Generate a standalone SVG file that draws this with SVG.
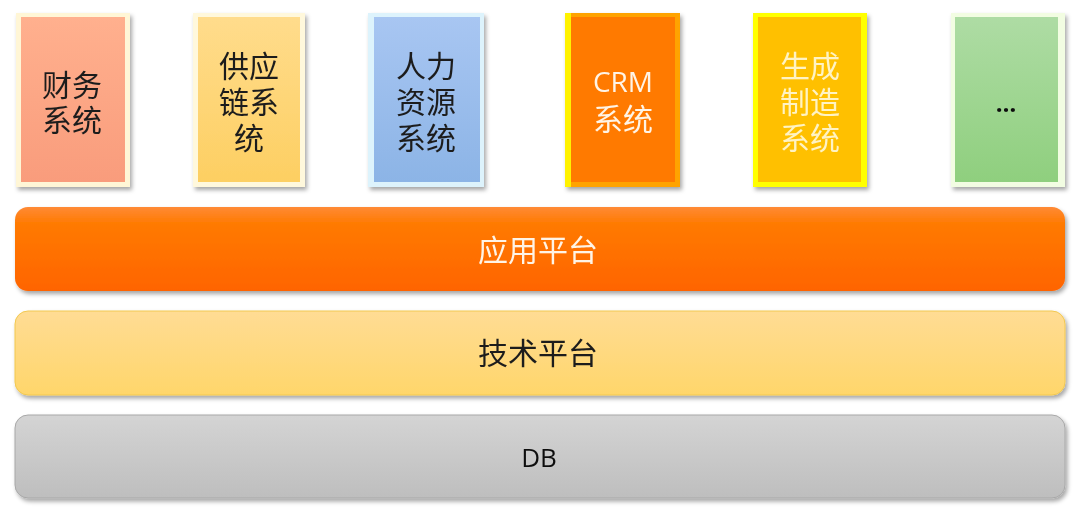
<svg xmlns="http://www.w3.org/2000/svg" width="1080" height="515" viewBox="0 0 1080 515">
<defs>
<filter id="sh" x="-10%" y="-10%" width="125%" height="125%"><feDropShadow dx="2" dy="3" stdDeviation="2" flood-color="#000" flood-opacity="0.35"/></filter>
<linearGradient id="g1" x1="0" y1="0" x2="0" y2="1"><stop offset="0" stop-color="#FFB08E"/><stop offset="1" stop-color="#F99C7C"/></linearGradient>
<linearGradient id="g2" x1="0" y1="0" x2="0" y2="1"><stop offset="0" stop-color="#FFDC8C"/><stop offset="1" stop-color="#FDCF62"/></linearGradient>
<linearGradient id="g3" x1="0" y1="0" x2="0" y2="1"><stop offset="0" stop-color="#A8C6F2"/><stop offset="1" stop-color="#8CB4E6"/></linearGradient>
<linearGradient id="g6" x1="0" y1="0" x2="0" y2="1"><stop offset="0" stop-color="#AEDCA4"/><stop offset="1" stop-color="#8FCF7E"/></linearGradient>
<linearGradient id="gb1" x1="0" y1="0" x2="0" y2="1"><stop offset="0" stop-color="#FF8A36"/><stop offset="0.2" stop-color="#FF7A00"/><stop offset="1" stop-color="#FF6400"/></linearGradient>
<linearGradient id="gb2" x1="0" y1="0" x2="0" y2="1"><stop offset="0" stop-color="#FFDC94"/><stop offset="1" stop-color="#FFD66A"/></linearGradient>
<linearGradient id="gb3" x1="0" y1="0" x2="0" y2="1"><stop offset="0" stop-color="#D4D4D4"/><stop offset="1" stop-color="#BEBEBE"/></linearGradient>
</defs>
<style>
.cj{font-family:"Noto Sans CJK SC","Noto Sans",sans-serif;font-size:30px;text-anchor:middle;fill:#1e1e1e}
.w{fill:#FFF4E6}
.y{fill:#FFF3C4}
.lat{font-family:"Open Sans","Noto Sans",sans-serif;text-anchor:middle}
</style>
<rect width="1080" height="515" fill="#fff"/>
<g id="n1" filter="url(#sh)">
<rect x="16" y="13" width="114" height="174" fill="#FFF6D6"/>
<rect x="21" y="17" width="104" height="165" fill="url(#g1)"/>
<text class="cj" x="72" y="96"><tspan x="72">财务</tspan><tspan x="72" dy="35">系统</tspan></text>
</g>
<g id="n2" filter="url(#sh)">
<rect x="193" y="13" width="112" height="174" fill="#FFF8DC"/>
<rect x="198" y="17" width="102" height="165" fill="url(#g2)"/>
<text class="cj" x="249" y="77"><tspan x="249">供应</tspan><tspan x="249" dy="36">链系</tspan><tspan x="249" dy="36">统</tspan></text>
</g>
<g id="n3" filter="url(#sh)">
<rect x="368" y="13" width="116" height="174" fill="#DDF3FC"/>
<rect x="374" y="17" width="106" height="165" fill="url(#g3)"/>
<text class="cj" x="426" y="77"><tspan x="426">人力</tspan><tspan x="426" dy="36">资源</tspan><tspan x="426" dy="36">系统</tspan></text>
</g>
<g id="n4" filter="url(#sh)">
<rect x="565" y="13" width="115" height="174" fill="#FFA300"/>
<rect x="565" y="13" width="6" height="174" fill="#FFF200"/>
<rect x="571" y="17" width="104" height="165" fill="#FF7A00"/>
<text class="lat w" x="623" y="92" font-size="28">CRM</text>
<text class="cj w" x="623" y="130">系统</text>
</g>
<g id="n5" filter="url(#sh)">
<rect x="753" y="13" width="114" height="174" fill="#FFFF00"/>
<rect x="758" y="17" width="103" height="165" fill="#FFC000"/>
<text class="cj y" x="810" y="77"><tspan x="810">生成</tspan><tspan x="810" dy="36">制造</tspan><tspan x="810" dy="36">系统</tspan></text>
</g>
<g id="n6" filter="url(#sh)">
<rect x="951" y="13" width="114" height="174" fill="#F2FDE2"/>
<rect x="955" y="17" width="103" height="165" fill="url(#g6)"/>
<text class="lat" x="1006" y="112" font-size="24" font-weight="bold" fill="#111">…</text>
</g>
<g id="app" filter="url(#sh)">
<rect x="15" y="207" width="1050" height="84" rx="13" fill="url(#gb1)"/>
<text class="cj w" x="538" y="261">应用平台</text>
</g>
<g id="tech" filter="url(#sh)">
<rect x="15" y="311" width="1050" height="84" rx="13" fill="url(#gb2)" stroke="#F2C850" stroke-width="1"/>
<text class="cj" x="538" y="364">技术平台</text>
</g>
<g id="db" filter="url(#sh)">
<rect x="15" y="415" width="1050" height="83" rx="13" fill="url(#gb3)" stroke="#A8A8A8" stroke-width="1"/>
<text class="lat" x="539" y="467" font-size="26" fill="#111">DB</text>
</g>
<g id="connectors"/>
</svg>
